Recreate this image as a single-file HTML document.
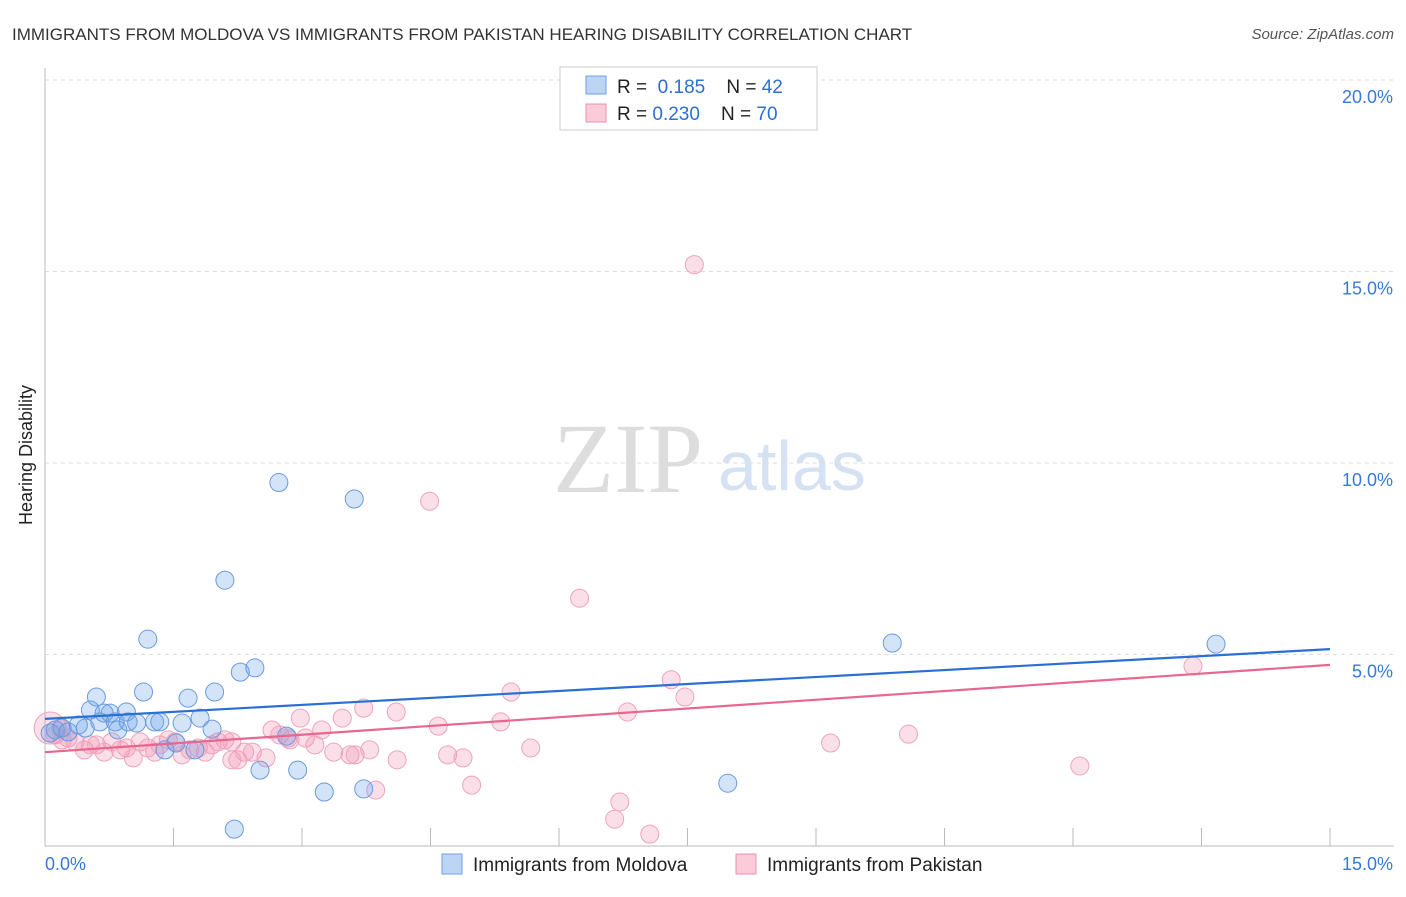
<!DOCTYPE html>
<html><head><meta charset="utf-8"><style>
body{margin:0;background:#fff;font-family:"Liberation Sans",sans-serif}
</style></head><body>
<svg id="chart" width="1406" height="892" font-family="Liberation Sans, sans-serif">
<text x="12" y="40" font-size="17" fill="#333">IMMIGRANTS FROM MOLDOVA VS IMMIGRANTS FROM PAKISTAN HEARING DISABILITY CORRELATION CHART</text>
<text x="1394" y="39" font-size="15" fill="#555" text-anchor="end" font-style="italic">Source: ZipAtlas.com</text>
<text x="32" y="455" font-size="18" fill="#222" text-anchor="middle" transform="rotate(-90 32 455)">Hearing Disability</text>
<text x="553" y="492" font-size="100" fill="#ddd" style="font-family:'Liberation Serif',serif">ZIP</text>
<text x="718" y="490" font-size="70" fill="#d5e2f3">atlas</text>
<g id="grid"></g><g id="pts"></g><g id="lines"></g>
<g>
<rect x="560" y="67" width="257" height="63" fill="#fff" stroke="#ccc"/>
<rect x="586" y="76" width="20" height="18" fill="#bcd5f5" stroke="#6f9fe0"/>
<text x="617" y="93" font-size="19" fill="#222">R = <tspan fill="#2b6fd6">&#160;0.185</tspan>&#160;&#160;&#160; N = <tspan fill="#2b6fd6">42</tspan></text>
<rect x="586" y="104" width="20" height="18" fill="#fbcbd9" stroke="#e991ad"/>
<text x="617" y="120" font-size="19" fill="#222">R = <tspan fill="#2b6fd6">0.230</tspan>&#160;&#160;&#160; N = <tspan fill="#2b6fd6">70</tspan></text>
</g>
<g>
<rect x="442" y="854" width="20" height="20" fill="#bcd5f5" stroke="#6f9fe0"/>
<text x="473" y="871" font-size="19" fill="#222">Immigrants from Moldova</text>
<rect x="736" y="854" width="20" height="20" fill="#fbcbd9" stroke="#e991ad"/>
<text x="767" y="871" font-size="19" fill="#222">Immigrants from Pakistan</text>
</g>
</svg>
<script>
const yTicks=[5,10,15,20];
const yTickLabels=["5.0%","10.0%","15.0%","20.0%"];
const moldovaX=[0.06,0.12,0.2,0.27,0.39,0.47,0.53,0.6,0.64,0.69,0.76,0.82,0.85,0.95,0.97,1.07,1.15,1.2,1.28,1.34,1.4,1.53,1.6,1.67,1.75,1.81,1.95,1.98,2.1,2.21,2.28,2.45,2.51,2.73,2.82,2.95,3.26,3.61,3.72,7.97,9.89,13.67];
const moldovaY=[2.95,3.03,3.08,2.98,3.16,3.08,3.55,3.89,3.24,3.47,3.47,3.24,3.03,3.5,3.24,3.21,4.02,5.4,3.24,3.24,2.51,2.69,3.21,3.86,2.51,3.34,3.05,4.02,6.94,0.44,4.54,4.65,1.98,9.49,2.87,1.98,1.41,9.06,1.49,1.64,5.3,5.27];
const pakistanX=[0.06,0.12,0.2,0.27,0.35,0.46,0.53,0.6,0.69,0.78,0.88,0.95,1.03,1.11,1.2,1.28,1.34,1.44,1.52,1.6,1.69,1.79,1.87,1.95,2.02,2.1,2.18,2.25,2.33,2.42,2.58,2.65,2.74,2.86,2.98,3.04,3.15,3.23,3.37,3.47,3.56,3.62,3.72,3.79,3.86,4.1,4.11,4.49,4.59,4.7,4.88,4.98,5.32,5.44,5.67,6.24,6.65,6.71,6.8,7.06,7.31,7.47,7.58,9.17,10.08,12.08,13.4,0.18,2.18,2.84];
const pakistanY=[3.08,2.9,2.77,2.82,2.72,2.51,2.64,2.64,2.45,2.72,2.51,2.56,2.3,2.72,2.56,2.45,2.64,2.77,2.72,2.38,2.51,2.56,2.45,2.64,2.72,2.77,2.72,2.25,2.45,2.45,2.3,3.03,2.9,2.77,3.34,2.82,2.64,3.03,2.45,3.34,2.38,2.38,3.6,2.51,1.46,3.5,2.25,9.0,3.13,2.38,2.3,1.59,3.24,4.02,2.56,6.47,0.7,1.15,3.5,0.31,4.34,3.89,15.18,2.69,2.92,2.09,4.7,3.08,2.25,2.82];
const moldovaTrend=[3.32,5.14];
const pakistanTrend=[2.45,4.73];
const NS="http://www.w3.org/2000/svg";
const X0=45,X1=1330,XMAX=15,Y0=846,PX5=191.5;
const sx=v=>X0+v/XMAX*(X1-X0), sy=v=>Y0-v/5*PX5;
function mk(tag,at,parent){const e=document.createElementNS(NS,tag);for(const k in at)e.setAttribute(k,at[k]);parent.appendChild(e);return e;}
const grid=document.getElementById('grid');
yTicks.forEach((t,i)=>{
 const l=mk('line',{x1:X0,x2:1394,y1:sy(t),y2:sy(t),stroke:'#ddd','stroke-dasharray':'4,4'},grid);
 
 
 const tx=mk('text',{x:1393,y:sy(t)+23,'font-size':18,fill:'#3a78d8','text-anchor':'end'},grid);
 tx.textContent=yTickLabels[i];
 
 
});
const ax=mk('line',{x1:X0,x2:X0,y1:68,y2:Y0,stroke:'#bbb'},grid);


const bx=mk('line',{x1:X0,x2:1394,y1:Y0,y2:Y0,stroke:'#bbb'},grid);


for(let i=0;i<=10;i++){const v=i*1.5;const t=mk('line',{x1:sx(v),x2:sx(v),y1:828,y2:Y0,stroke:'#bbb'},grid);
 
 }
[["0.0%",45,'start'],["15.0%",1393,'end']].forEach(a=>{const t=mk('text',{x:a[1],y:870,'font-size':18,fill:'#3a78d8','text-anchor':a[2]},grid);t.textContent=a[0];
 
 });
const pts=document.getElementById('pts');
pakistanX.forEach((x,i)=>{const c=mk('circle',{cx:sx(x),cy:sy(pakistanY[i]),r:i==0?16:9,fill:'rgba(242,150,178,0.3)',stroke:'#efa3bb','stroke-width':1},pts);
 
 });
moldovaX.forEach((x,i)=>{const c=mk('circle',{cx:sx(x),cy:sy(moldovaY[i]),r:9,fill:'rgba(110,165,235,0.3)',stroke:'#6a9ade','stroke-width':1},pts);
 
 });
const lines=document.getElementById('lines');
const l1=mk('line',{x1:sx(0),x2:sx(15),y1:sy(moldovaTrend[0]),y2:sy(moldovaTrend[1]),stroke:'#2a6fd6','stroke-width':2.2},lines);


const l2=mk('line',{x1:sx(0),x2:sx(15),y1:sy(pakistanTrend[0]),y2:sy(pakistanTrend[1]),stroke:'#e8678f','stroke-width':2.2},lines);


</script>
</body></html>
